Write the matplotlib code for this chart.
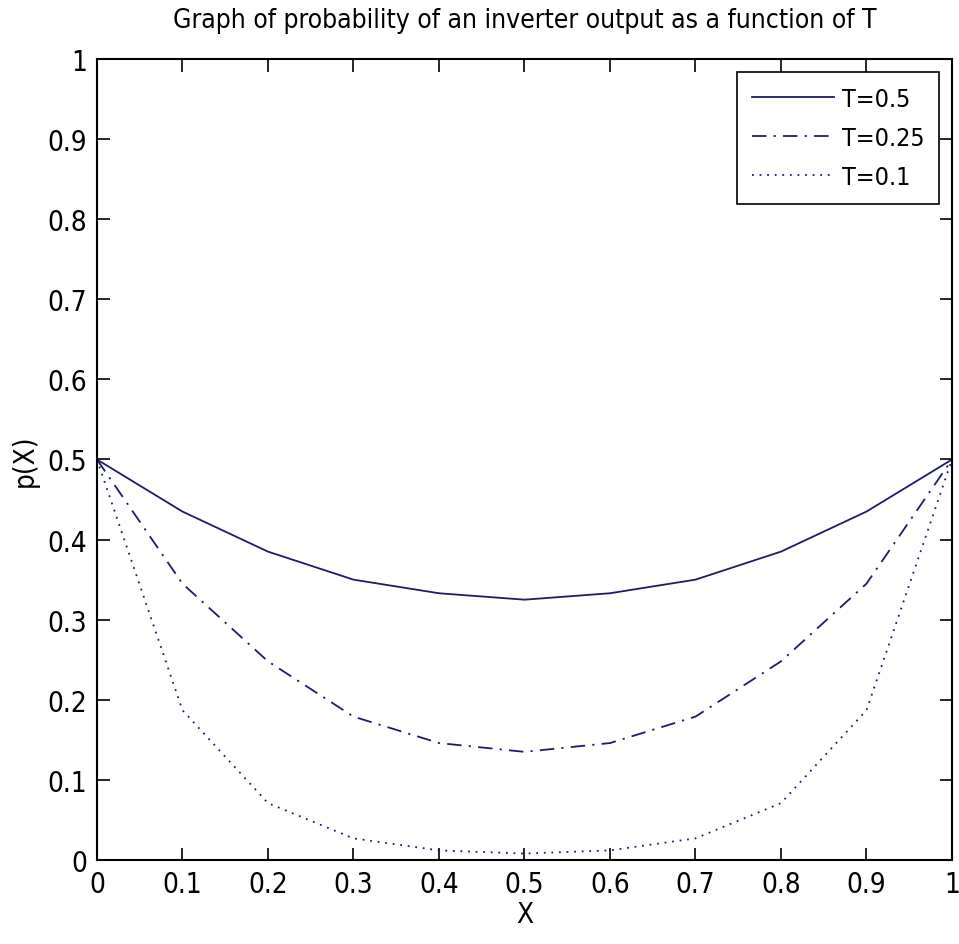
import numpy as np
import matplotlib.pyplot as plt

# values
x = [0.0, 0.1, 0.2, 0.3, 0.4, 0.5, 0.6, 0.7, 0.8, 0.9, 1.0]
p_t05 = [0.5, 0.435, 0.385, 0.35, 0.333, 0.325, 0.333, 0.35, 0.385, 0.435, 0.5]
p_t025 = [0.5, 0.345, 0.248, 0.179, 0.146, 0.135, 0.146, 0.179, 0.248, 0.345, 0.5]
p_t01 = [0.5, 0.187, 0.071, 0.027, 0.012, 0.008, 0.012, 0.027, 0.071, 0.187, 0.5]
labels = ['T=0.5', 'T=0.25', 'T=0.1']
ticks = [0, 0.1, 0.2, 0.3, 0.4, 0.5, 0.6, 0.7, 0.8, 0.9, 1]
tick_labels = ['0', '0.1', '0.2', '0.3', '0.4', '0.5', '0.6', '0.7', '0.8', '0.9', '1']

plt.rcParams['font.family'] = ['DejaVu Sans']
plt.rcParams['font.stretch'] = 'condensed'

col = '#1c1c6a'
fig = plt.figure(figsize=(9.59, 9.45), dpi=100)
ax = fig.add_axes([0.1011, 0.0889, 0.8916, 0.8476])

ax.plot(x, p_t05, '-', color=col, lw=1.3, label=labels[0])
ax.plot(x, p_t025, '-.', color=col, lw=1.3, label=labels[1], dashes=(8, 4, 1.2, 4))
ax.plot(x, p_t01, ':', color=col, lw=1.3, label=labels[2], dashes=(1, 3.2))

ax.set_xlim(0, 1)
ax.set_ylim(0, 1)
ax.set_xticks(ticks)
ax.set_xticklabels(tick_labels)
ax.set_yticks(ticks)
ax.set_yticklabels(tick_labels)
ax.tick_params(direction='in', top=True, right=True, length=9, width=1.2,
               labelsize=20, pad=7)
for s in ax.spines.values():
    s.set_linewidth(1.5)

ax.set_title('Graph of probability of an inverter output as a function of T',
             fontsize=19, pad=23)
ax.set_xlabel('X', fontsize=20, labelpad=2)
ax.set_ylabel('p(X)', fontsize=20, labelpad=6)

leg = ax.legend(loc='upper right', fontsize=18, handlelength=3.3,
                fancybox=False, framealpha=1, edgecolor='black',
                borderaxespad=0.5, labelspacing=0.6, handletextpad=0.3,
                borderpad=0.6)
leg.get_frame().set_linewidth(1.2)

fig.savefig('out.png', dpi=100)
